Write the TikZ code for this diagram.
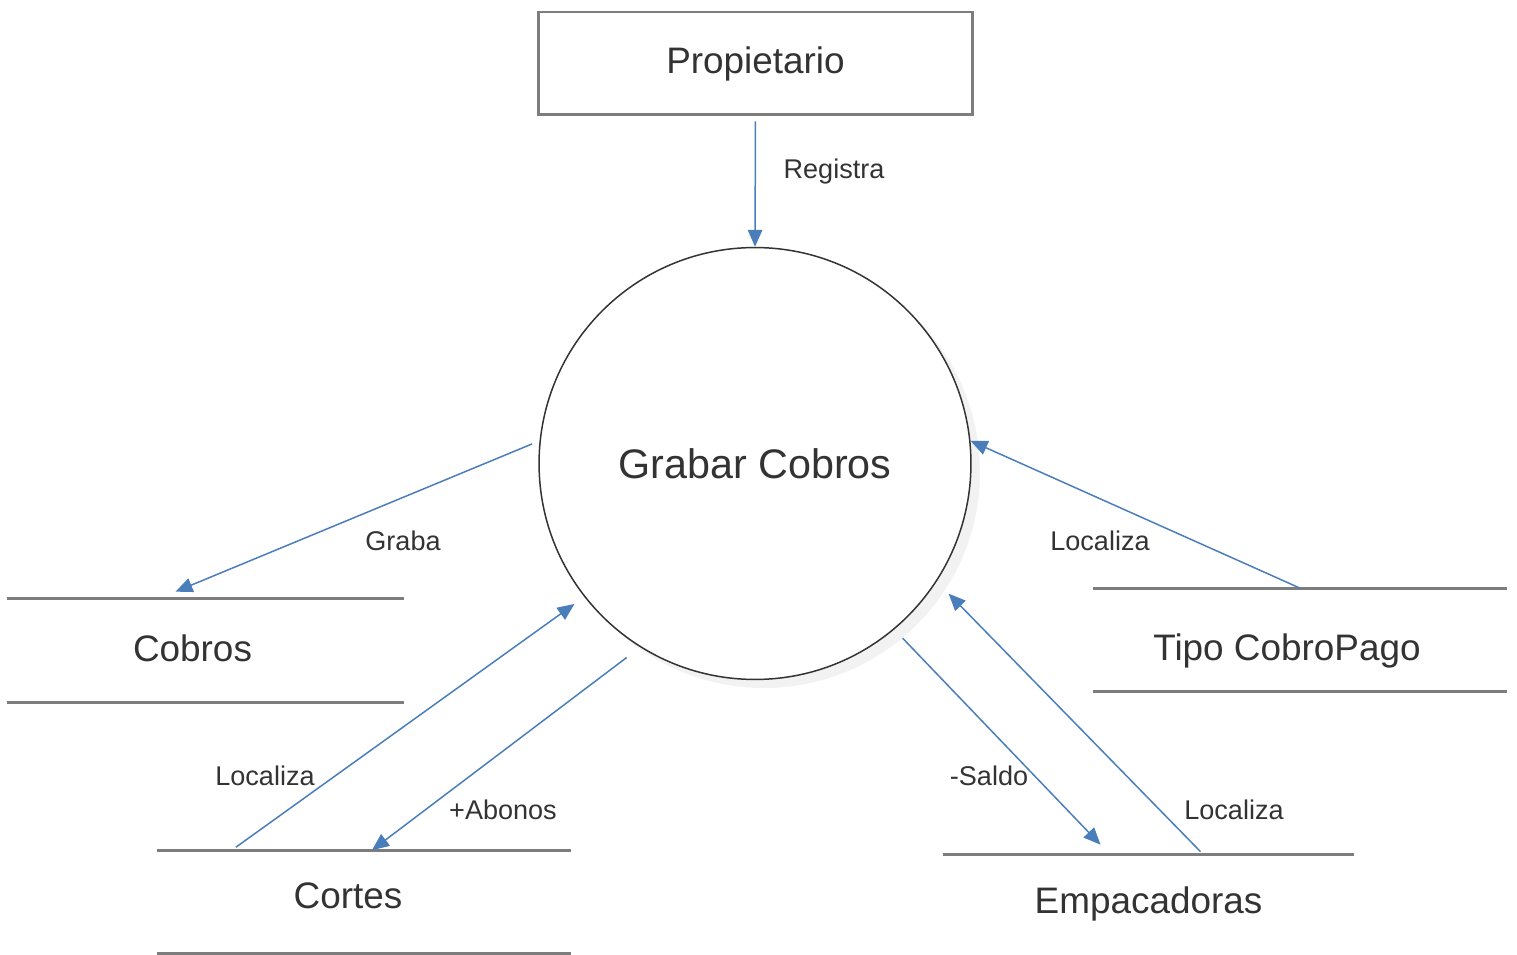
\documentclass[tikz,border=0pt]{standalone}
\usepackage{fontspec}
\setmainfont{Liberation Sans}
\usepackage{xcolor}
\usetikzlibrary{arrows.meta,calc}
\definecolor{azulflujo}{RGB}{74,126,187}
\definecolor{borde}{RGB}{125,125,125}
\definecolor{texto}{RGB}{51,51,51}

\begin{document}
\begin{tikzpicture}[x=0.02cm,y=-0.02cm,
  entidad/.style={draw=borde,line width=1.7pt,minimum width=8.7cm,minimum height=2.06cm,font=\fontsize{21}{25}\selectfont,text=texto},
  almacen/.style={minimum height=2.06cm,inner sep=0pt},
  nombre/.style={font=\fontsize{21}{25}\selectfont,text=texto},
  linea/.style={draw=borde,line width=1.7pt},
  proceso/.style={circle,draw=texto,line width=0.85pt,fill=white,minimum size=8.64cm,font=\fontsize{23.5}{28}\selectfont,text=texto},
  flujo/.style={draw=azulflujo,line width=0.85pt,-{Triangle[length=0.34cm,width=0.29cm]}},
  etiqueta/.style={font=\fontsize{15.4}{18}\selectfont,text=texto,inner sep=0pt}]
\useasboundingbox (0,0) rectangle (1517,955);
% entidad y proceso
\node[entidad] (prop) at (755.5,63.5) {Propietario};
\fill[gray!10] (764,472) circle (216);
\node[proceso] (proc) at (755,463.5) {Grabar Cobros};
% almacenes
\node[almacen,minimum width=7.94cm] (cobros) at (205.5,650.5) {};
\node[almacen,minimum width=8.28cm] (tipo) at (1300,640) {};
\node[almacen,minimum width=8.28cm] (cortes) at (364,902) {};
\node[almacen,minimum width=8.22cm] (empac) at (1148.5,906.5) {};
\foreach \s in {cobros,tipo,cortes,empac}
  \draw[linea] (\s.north west) -- (\s.north east) (\s.south west) -- (\s.south east);
\node[nombre] (tcobros) at ($(cobros)+(-13,-2)$) {Cobros};
\node[nombre] (ttipo) at ($(tipo)+(-13,11)$) {Tipo CobroPago};
\node[nombre] (tcortes) at ($(cortes)+(-16,-6)$) {Cortes};
\node[nombre] (tempac) at ($(empac)+(0,-3)$) {Empacadoras};
% flujos
\draw[flujo,shorten <=0.1cm] (prop.south) -- (proc.north);
\draw[flujo,shorten <=0.16cm] (proc.174) -- ($(cobros.north)+(-30,-7)$);
\draw[flujo] (tipo.north) -- (proc.6);
\draw[flujo,shorten >=0.24cm] ($(cortes.north)+(-128,-3)$) -- (proc.218);
\draw[flujo,shorten <=0.34cm] (proc.238) -- ($(cortes.north)+(8,0)$);
\draw[flujo,shorten <=0.24cm] (proc.310) -- ($(empac.north)+(-48,-10)$);
\draw[flujo,shorten >=0.34cm] ($(empac.north)+(52,-3)$) -- (proc.327);
% etiquetas
\node[etiqueta] (lregistra) at (834,172) {Registra};
\node[etiqueta] (lgraba) at (403,541) {Graba};
\node[etiqueta] (llocaltipo) at (1100,541) {Localiza};
\node[etiqueta] (llocalcortes) at (265,776) {Localiza};
\node[etiqueta] (labonos) at (503,810) {+Abonos};
\node[etiqueta] (lsaldo) at (989,776) {-Saldo};
\node[etiqueta] (llocalempac) at (1234,810) {Localiza};
\end{tikzpicture}
\end{document}
